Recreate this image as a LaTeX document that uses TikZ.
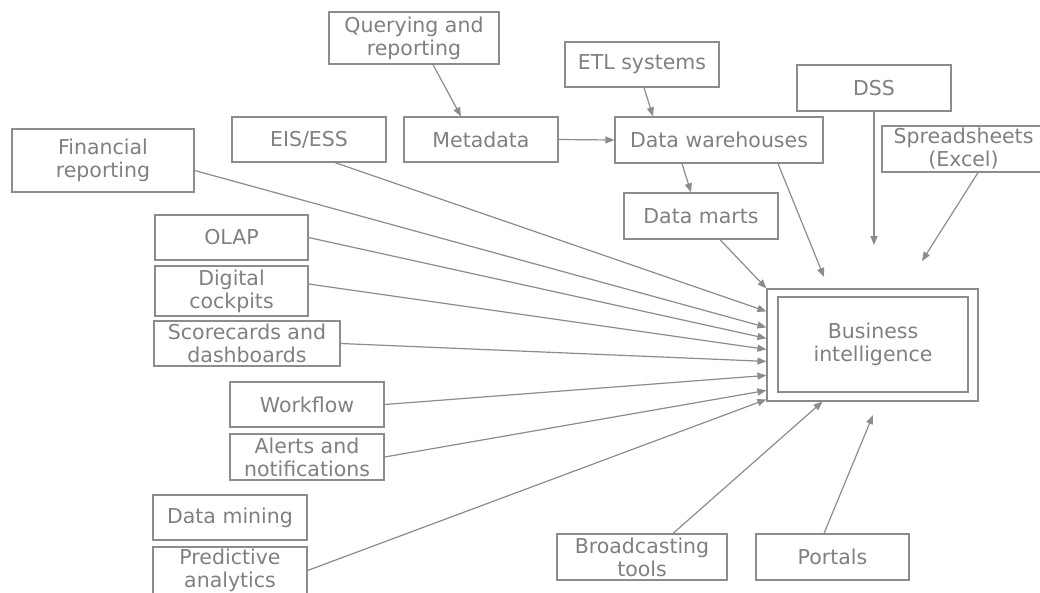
\documentclass[tikz,border=0pt]{standalone}
\usepackage{fontspec}
\setmainfont{DejaVu Sans}
\usetikzlibrary{arrows.meta}
\definecolor{lineg}{RGB}{140,140,140}
\definecolor{textg}{RGB}{128,128,128}
\tikzset{
  box/.style={draw=lineg, line width=1.2pt, rectangle, inner sep=0pt, align=center,
    text=textg, font=\fontsize{20.5}{23}\selectfont},
  link/.style={draw=lineg, line width=1.2pt, -{Triangle[length=9pt,width=7pt]}},
}
\begin{document}
\begin{tikzpicture}[x=1pt, y=-1pt]
\fill[white] (0,0) rectangle (1040,592);
\clip (0,0) rectangle (1040,592);

% top row of sources
\node[box, minimum width=170pt, minimum height=52pt] (qr) at (414,38) {Querying and\\reporting};
\node[box, minimum width=154pt, minimum height=45pt] (eis) at (309,139.5) {EIS/ESS};
\node[box, minimum width=154pt, minimum height=45pt] (meta) at (481,139.5) {Metadata};
\node[box, minimum width=154pt, minimum height=45pt] (etl) at (642,64.5) {ETL systems};
\node[box, minimum width=208pt, minimum height=46pt] (dw) at (719,140) {Data warehouses};
\node[box, minimum width=154pt, minimum height=46pt] (dss) at (874,88) {DSS};
\node[box, minimum width=163pt, minimum height=46pt] (ss) at (963.5,149) {Spreadsheets\\(Excel)};
\node[box, minimum width=154pt, minimum height=46pt] (dmart) at (701,216) {Data marts};

% left column of sources
\node[box, minimum width=182pt, minimum height=63pt] (fin) at (103,160.5) {Financial\\reporting};
\node[box, minimum width=153pt, minimum height=45pt] (olap) at (231.5,237.5) {OLAP};
\node[box, minimum width=153pt, minimum height=50pt] (dc) at (231.5,291) {Digital\\cockpits};
\node[box, minimum width=186pt, minimum height=45pt] (sc) at (247,343.5) {Scorecards and\\dashboards};
\node[box, minimum width=154pt, minimum height=45pt] (wf) at (307,404.5) {Workflow};
\node[box, minimum width=154pt, minimum height=46pt] (al) at (307,457) {Alerts and\\notifications};
\node[box, minimum width=154pt, minimum height=45pt] (dmin) at (230,517.5) {Data mining};
\node[box, minimum width=154pt, minimum height=47pt] (pa) at (230,570.5) {Predictive\\analytics};

% bottom row
\node[box, minimum width=170pt, minimum height=46pt] (bc) at (642,557) {Broadcasting\\tools};
\node[box, minimum width=153pt, minimum height=46pt] (po) at (832.5,557) {Portals};

% central double box
\node[box, minimum width=211pt, minimum height=112pt] (biout) at (872.5,345) {};
\node[box, minimum width=190pt, minimum height=95pt] (bi) at (873,344.5) {Business\\intelligence};

% free arrow ends near the central box
\coordinate (c1) at (824,277);
\coordinate (c2) at (874,245);
\coordinate (c3) at (922,261);
\coordinate (c4) at (873,415);

% warehouse chain
\draw[link] ([xshift=19pt]qr.south) -- ([xshift=-20pt]meta.north);
\draw[link] (meta.east) -- (dw.west);
\draw[link] ([xshift=2pt]etl.south) -- ([xshift=-66pt]dw.north);
\draw[link] ([xshift=-37pt]dw.south) -- ([xshift=-10pt]dmart.north);
\draw[link] ([xshift=59pt]dw.south) -- (c1);
\draw[link] (dss.south) -- (c2);
\draw[link] ([xshift=14.5pt]ss.south) -- (c3);
\draw[link] ([xshift=19pt]dmart.south) -- (biout.north west);

% fan of arrows into the left side
\draw[link] ([xshift=26pt]eis.south) -- ([yshift=-23pt]biout.north west);
\draw[link] ([yshift=-10pt]fin.east) -- ([yshift=-39pt]biout.north west);
\draw[link] (olap.east) -- ([yshift=-50pt]biout.north west);
\draw[link] ([yshift=7pt]dc.east) -- ([yshift=-61pt]biout.north west);
\draw[link] (sc.east) -- ([yshift=-73pt]biout.north west);
\draw[link] (wf.east) -- ([yshift=-87pt]biout.north west);
\draw[link] (al.east) -- ([yshift=-102pt]biout.north west);
\draw[link] (pa.east) -- ([yshift=-111pt]biout.north west);

% arrows from below
\draw[link] ([xshift=31pt]bc.north) -- ([xshift=-50pt]biout.south);
\draw[link] ([xshift=-8.5pt]po.north) -- (c4);
\end{tikzpicture}
\end{document}
